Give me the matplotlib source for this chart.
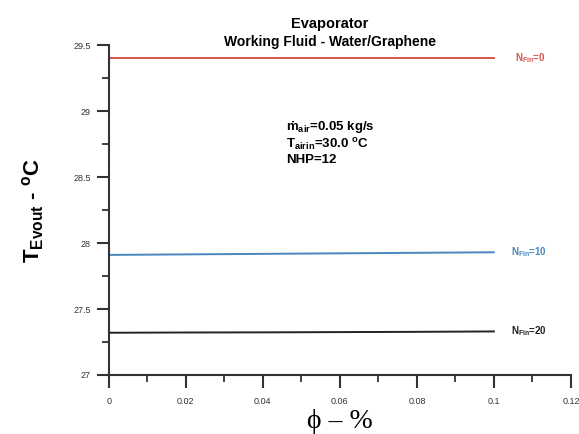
import matplotlib
matplotlib.use("Agg")
import matplotlib.pyplot as plt
from matplotlib.ticker import MultipleLocator

# volume fraction (%) and evaporator outlet temperature for each fin count
phi = [0.0, 0.02, 0.04, 0.06, 0.08, 0.10]
t_fin0 = [29.40, 29.40, 29.40, 29.40, 29.40, 29.40]
t_fin10 = [27.91, 27.914, 27.918, 27.922, 27.926, 27.93]
t_fin20 = [27.32, 27.322, 27.323, 27.325, 27.327, 27.33]
labels = ["0", "10", "20"]

plt.rcParams["font.family"] = ["Liberation Sans", "DejaVu Sans"]
plt.rcParams["mathtext.fontset"] = "custom"
plt.rcParams["mathtext.rm"] = "Liberation Sans:bold"
plt.rcParams["mathtext.it"] = "Liberation Sans:bold"
plt.rcParams["mathtext.bf"] = "Liberation Sans:bold"

fig = plt.figure(figsize=(5.79, 4.34), dpi=100)
ax = fig.add_axes([0.188, 0.136, 0.798, 0.760])

series = [
    (t_fin0, "#d4574c", labels[0], 0.0055),
    (t_fin10, "#4a86c0", labels[1], 0.0045),
    (t_fin20, "#222222", labels[2], 0.0045),
]
for vals, col, lab, off in series:
    ax.plot(phi, vals, color=col, lw=1.4)
    ax.text(phi[-1] + off, vals[-1], r"N$_{\mathregular{Fin}}$=" + lab,
            color=col, fontsize=7, fontweight="bold", va="center", ha="left")

ax.set_xlim(0, 0.12)
ax.set_ylim(27, 29.5)
ax.xaxis.set_major_locator(MultipleLocator(0.02))
ax.xaxis.set_minor_locator(MultipleLocator(0.01))
ax.yaxis.set_major_locator(MultipleLocator(0.5))
ax.yaxis.set_minor_locator(MultipleLocator(0.25))
ax.set_xticks([0, 0.02, 0.04, 0.06, 0.08, 0.1, 0.12])
ax.set_xticklabels(["0", "0.02", "0.04", "0.06", "0.08", "0.1", "0.12"])
ax.set_yticks([27, 27.5, 28, 28.5, 29, 29.5])
ax.set_yticklabels(["27", "27.5", "28", "28.5", "29", "29.5"])

for s in ["top", "right"]:
    ax.spines[s].set_visible(False)
for s in ["left", "bottom"]:
    ax.spines[s].set_linewidth(1.5)
    ax.spines[s].set_color("#333333")
ax.tick_params(which="major", length=9, width=1.5, labelsize=6.5,
               colors="#333333", pad=4)
ax.tick_params(which="minor", length=5, width=1.3, colors="#333333")
ax.tick_params(axis="x", which="major", pad=7)

ax.set_ylabel(r"T$_{\mathregular{Evout}}$ - $\mathregular{^o}$C",
              fontsize=16, fontweight="bold", labelpad=20)
ax.set_xlabel("\u03d5 \u2013 %", fontsize=20,
              family=["Liberation Serif", "DejaVu Serif"], labelpad=2)

fig.text(0.57, 0.935, "Evaporator", ha="center", fontsize=10.5, fontweight="bold")
fig.text(0.57, 0.893, "Working Fluid - Water/Graphene", ha="center",
         fontsize=10, fontweight="bold")

info = "\n".join([
    r"$\dot{\mathregular{m}}_{\mathregular{air}}$=0.05 kg/s",
    r"T$_{\mathregular{airin}}$=30.0 $\mathregular{^o}$C",
    "NHP=12",
])
ax.text(0.046, 28.94, info, fontsize=9.5, fontweight="bold", va="top",
        ha="left", linespacing=1.1)

fig.savefig("out.png", dpi=100)
